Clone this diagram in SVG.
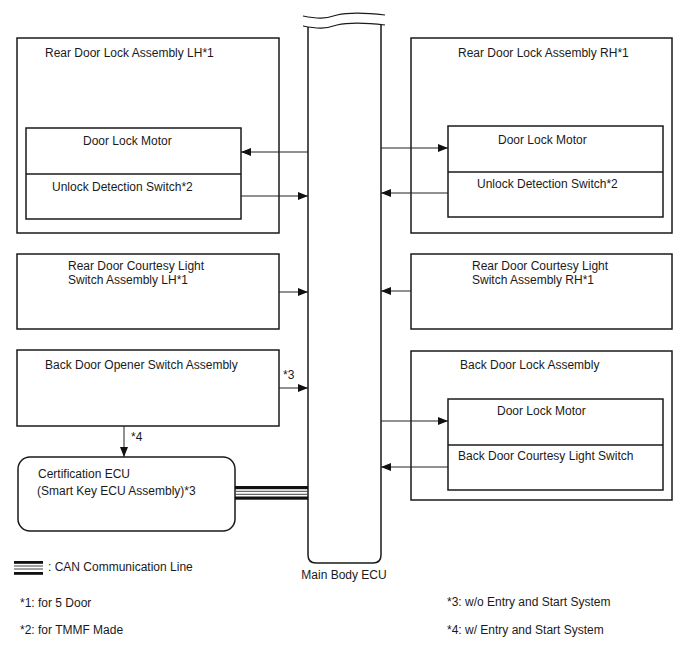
<svg xmlns="http://www.w3.org/2000/svg" width="688" height="658" viewBox="0 0 688 658">
<style>
text{font-family:"Liberation Sans",Arial,sans-serif;font-size:12px;fill:#1a1a1a}
.box{fill:#fff;stroke:#1a1a1a;stroke-width:1.5}
.in{fill:none;stroke:#1a1a1a;stroke-width:1.5}
.w{fill:none;stroke:#1a1a1a;stroke-width:1.2}
.c{fill:none;stroke:#222;stroke-width:1}
</style>
<defs>
<marker id="ah" viewBox="0 0 10 8" refX="10" refY="4" markerWidth="10" markerHeight="8" markerUnits="userSpaceOnUse" orient="auto">
<path d="M0,0 L10,4 L0,8 Z" fill="#111"/>
</marker>
</defs>
<rect width="688" height="658" fill="#fff"/>

<g id="main-body-ecu">
<path class="box" d="M308,27 V555 Q308,563 316,563 H373 Q381,563 381,555 V24"/>
<path class="w" d="M303,16 C318,19 325,19 337,15 C350,12 368,13 385,15"/>
<path class="w" d="M303,26 C318,29 325,29 337,25 C350,22 368,23 385,25"/>
<text x="344" y="579" text-anchor="middle">Main Body ECU</text>
</g>

<g id="rear-door-lock-lh">
<rect class="box" x="17" y="38" width="262" height="195"/>
<text x="45" y="57">Rear Door Lock Assembly LH*1</text>
<rect class="in" x="26" y="128" width="215" height="91"/>
<line class="in" x1="26" y1="174" x2="241" y2="174"/>
<text x="83" y="145">Door Lock Motor</text>
<text x="52" y="191">Unlock Detection Switch*2</text>
</g>

<g id="rear-door-lock-rh">
<rect class="box" x="411" y="38" width="261" height="195"/>
<text x="458" y="57">Rear Door Lock Assembly RH*1</text>
<rect class="in" x="448" y="126" width="215" height="91"/>
<line class="in" x1="448" y1="172" x2="663" y2="172"/>
<text x="498" y="144">Door Lock Motor</text>
<text x="477" y="188">Unlock Detection Switch*2</text>
</g>

<g id="courtesy-lh">
<rect class="box" x="17" y="254" width="262" height="75"/>
<text x="68" y="270">Rear Door Courtesy Light</text>
<text x="68" y="284">Switch Assembly LH*1</text>
</g>

<g id="courtesy-rh">
<rect class="box" x="411" y="254" width="261" height="75"/>
<text x="472" y="270">Rear Door Courtesy Light</text>
<text x="472" y="284">Switch Assembly RH*1</text>
</g>

<g id="back-door-opener">
<rect class="box" x="17" y="350" width="262" height="76"/>
<text x="45" y="369">Back Door Opener Switch Assembly</text>
</g>

<g id="certification-ecu">
<rect class="box" x="18" y="457" width="217" height="74" rx="12" ry="12"/>
<text x="38" y="478">Certification ECU</text>
<text x="37" y="495">(Smart Key ECU Assembly)*3</text>
</g>

<g id="back-door-lock">
<rect class="box" x="411" y="351" width="261" height="149"/>
<text x="460" y="369">Back Door Lock Assembly</text>
<rect class="in" x="448" y="399" width="215" height="91"/>
<line class="in" x1="448" y1="445" x2="663" y2="445"/>
<text x="497" y="415">Door Lock Motor</text>
<text x="458" y="460">Back Door Courtesy Light Switch</text>
</g>

<g id="connectors">
<line class="c" x1="308" y1="152" x2="241" y2="152" marker-end="url(#ah)"/>
<line class="c" x1="241" y1="196" x2="308" y2="196" marker-end="url(#ah)"/>
<line class="c" x1="381" y1="148" x2="448" y2="148" marker-end="url(#ah)"/>
<line class="c" x1="448" y1="193" x2="381" y2="193" marker-end="url(#ah)"/>
<line class="c" x1="279" y1="292" x2="308" y2="292" marker-end="url(#ah)"/>
<line class="c" x1="411" y1="291" x2="381" y2="291" marker-end="url(#ah)"/>
<line class="c" x1="279" y1="388" x2="308" y2="388" marker-end="url(#ah)"/>
<text x="283" y="379">*3</text>
<line class="c" x1="124" y1="426" x2="124" y2="457" marker-end="url(#ah)"/>
<text x="131" y="441">*4</text>
<line class="c" x1="381" y1="421" x2="448" y2="421" marker-end="url(#ah)"/>
<line class="c" x1="448" y1="467" x2="381" y2="467" marker-end="url(#ah)"/>
<g id="can-line">
<rect x="235" y="486" width="73" height="3.2" fill="#111"/>
<line x1="235" y1="491.3" x2="308" y2="491.3" stroke="#444" stroke-width="1"/>
<line x1="235" y1="494.3" x2="308" y2="494.3" stroke="#444" stroke-width="1"/>
<rect x="235" y="496.5" width="73" height="3.2" fill="#111"/>
</g>
</g>

<g id="legend">
<rect x="14" y="561" width="29" height="2.8" fill="#111"/>
<line x1="14" y1="566" x2="43" y2="566" stroke="#444" stroke-width="1"/>
<line x1="14" y1="569" x2="43" y2="569" stroke="#444" stroke-width="1"/>
<rect x="14" y="572" width="29" height="2.8" fill="#111"/>
<text x="48" y="571">: CAN Communication Line</text>
<text x="20" y="607">*1: for 5 Door</text>
<text x="20" y="634">*2: for TMMF Made</text>
<text x="447" y="606">*3: w/o Entry and Start System</text>
<text x="447" y="634">*4: w/ Entry and Start System</text>
</g>
</svg>
